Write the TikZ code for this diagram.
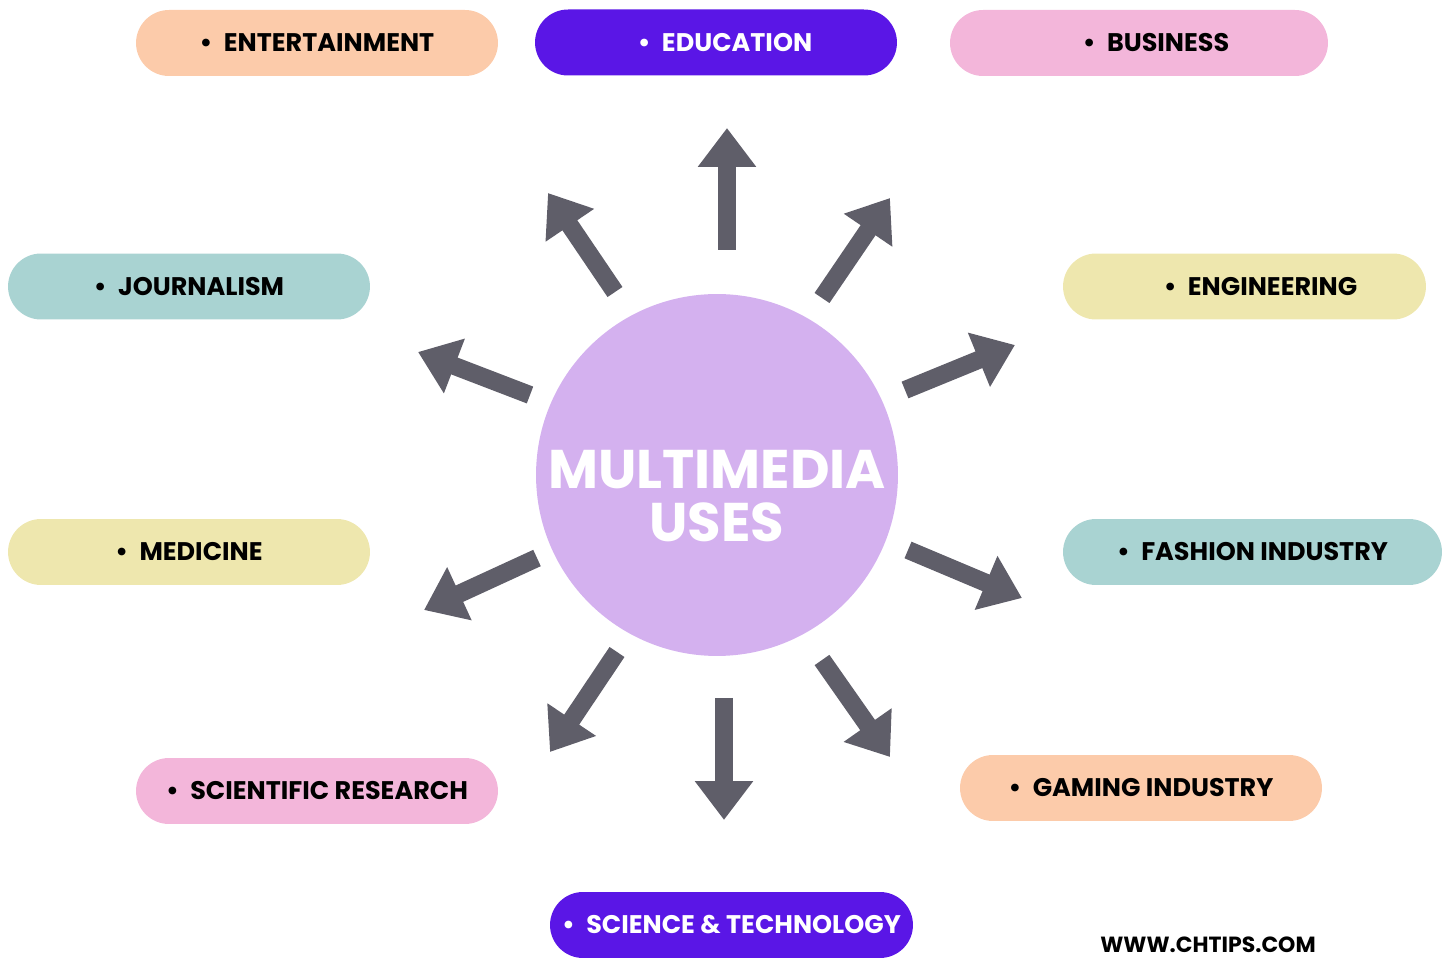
\documentclass[tikz,border=0pt]{standalone}
\usepackage{fontspec}
\setmainfont{Poppins}
\usetikzlibrary{arrows.meta}
\definecolor{peach}{HTML}{FCCBAA}
\definecolor{violet}{HTML}{5A16E6}
\definecolor{pinkc}{HTML}{F3B6DA}
\definecolor{tealc}{HTML}{A9D3D2}
\definecolor{yellowc}{HTML}{EEE7AE}
\definecolor{circ}{HTML}{D4B1EF}
\definecolor{arrowgray}{HTML}{5F5E69}
\tikzset{
  pill/.style={rounded corners=0.66cm, minimum width=7.24cm, minimum height=1.32cm,
    inner sep=0pt, font=\fontsize{14.5}{17}\selectfont\bfseries, text=black},
  bigarrow/.style={draw=arrowgray, line width=0.36cm,
    -{Triangle[width=1.12cm,length=0.78cm]}},
}
\begin{document}
\begin{tikzpicture}[x=0.02cm,y=-0.02cm]
\useasboundingbox (0,0) rectangle (1448,962);
% center
\node[circle, fill=circ, minimum size=7.24cm, inner sep=0pt] (c) at (717,475) {};
\node[text=white, align=center, inner sep=0pt,
  font=\fontsize{31}{30}\selectfont\bfseries] (title) at (717,496) {MULTIMEDIA\\USES};
% pills
\node[pill, fill=peach] (ent) at (317,43) {•\hspace{0.45em}ENTERTAINMENT};
\node[pill, fill=violet, text=white] (edu) at (716,42.5) {\hspace{0.36cm}•\hspace{0.45em}EDUCATION};
\node[pill, fill=pinkc, minimum width=7.56cm] (bus) at (1139,43) {\hspace{0.68cm}•\hspace{0.45em}BUSINESS};
\node[pill, fill=tealc] (jou) at (189,286.5) {•\hspace{0.45em}JOURNALISM};
\node[pill, fill=yellowc, minimum width=7.26cm] (eng) at (1244.5,286.5) {\hspace{0.64cm}•\hspace{0.45em}ENGINEERING};
\node[pill, fill=yellowc] (med) at (189,552) {•\hspace{0.45em}MEDICINE};
\node[pill, fill=tealc, minimum width=7.58cm] (fas) at (1252.5,552) {•\hspace{0.45em}FASHION INDUSTRY};
\node[pill, fill=pinkc] (sci) at (317,791) {•\hspace{0.45em}SCIENTIFIC RESEARCH};
\node[pill, fill=peach] (gam) at (1141,788) {•\hspace{0.45em}GAMING INDUSTRY};
\node[pill, fill=violet, text=white, minimum width=7.26cm] (st) at (731.5,925) {•\hspace{0.45em}SCIENCE \& TECHNOLOGY};
\node[font=\fontsize{12.5}{14}\selectfont\bfseries, inner sep=0pt] (web) at (1208,945) {WWW.CHTIPS.COM};
% arrow coordinates
\coordinate (t1) at (727,250);  \coordinate (h1) at (727,128);
\coordinate (t2) at (615,292);  \coordinate (h2) at (548,193);
\coordinate (t3) at (822,298);  \coordinate (h3) at (890,198);
\coordinate (t4) at (530,395);  \coordinate (h4) at (418,352);
\coordinate (t5) at (905,390);  \coordinate (h5) at (1015,345);
\coordinate (t6) at (537,558);  \coordinate (h6) at (424,610);
\coordinate (t7) at (908,550);  \coordinate (h7) at (1022,598);
\coordinate (t8) at (617,652);  \coordinate (h8) at (550,752);
\coordinate (t9) at (724,698);  \coordinate (h9) at (724,820);
\coordinate (t10) at (822,660); \coordinate (h10) at (890,757);
\foreach \i in {1,...,10} {\draw[bigarrow] (t\i) -- (h\i);}
\end{tikzpicture}
\end{document}
